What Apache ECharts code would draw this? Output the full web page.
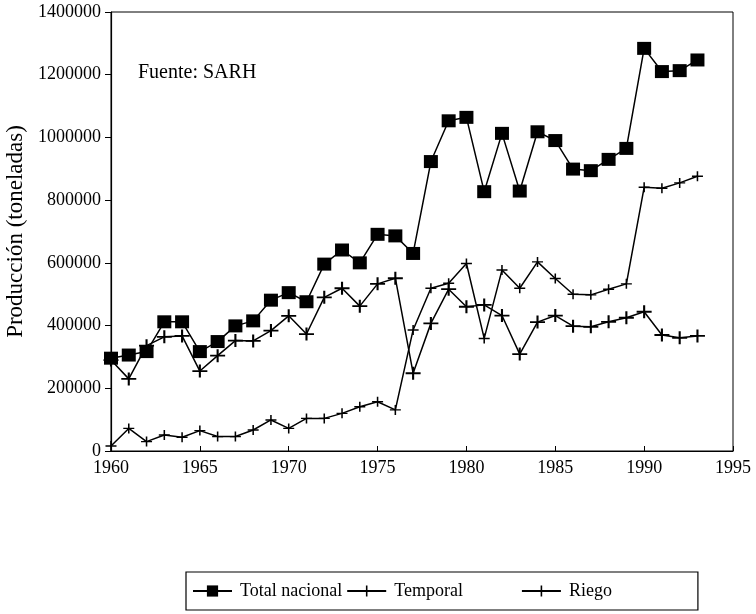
<!DOCTYPE html>
<html>
<head>
<meta charset="utf-8">
<script src="https://cdn.jsdelivr.net/npm/echarts@6/dist/echarts.min.js"></script>
<style>html,body{margin:0;padding:0;background:#fff;}#c{width:756px;height:614px;}</style>
</head>
<body>
<div id="c"></div>
<script>
const years = [1960,1961,1962,1963,1964,1965,1966,1967,1968,1969,1970,1971,1972,1973,1974,1975,1976,1977,1978,1979,1980,1981,1982,1983,1984,1985,1986,1987,1988,1989,1990,1991,1992,1993];
const totalNacional = [296000,306000,317000,412000,412000,317000,349000,399000,415000,481000,505000,476000,596000,641000,600000,691000,686000,630000,923000,1053000,1064000,827000,1013000,829000,1018000,990000,899000,894000,930000,965000,1284000,1210000,1213000,1247000];
const temporal = [290000,230000,336000,364000,367000,255000,304000,352000,351000,384000,431000,373000,490000,519000,462000,533000,551000,248000,407000,516000,460000,466000,432000,309000,411000,432000,398000,396000,412000,425000,444000,370000,361000,367000];
const riego = [16000,72000,30000,51000,44000,65000,46000,46000,67000,99000,72000,104000,104000,120000,141000,157000,131000,386000,519000,535000,598000,359000,577000,519000,603000,550000,500000,498000,516000,533000,841000,838000,855000,876000];
const seriesNames = ['Total nacional','Temporal','Riego'];
const yTicks = [0,200000,400000,600000,800000,1000000,1200000,1400000];
const xTicks = [1960,1965,1970,1975,1980,1985,1990,1995];

const serif = '"Liberation Serif", "DejaVu Serif", serif';
const plus = 'path://M4.3,0 H5.7 V4.3 H10 V5.7 H5.7 V10 H4.3 V5.7 H0 V4.3 H4.3 Z';
const pair = arr => years.map((y,i)=>[y,arr[i]]);

const chart = echarts.init(document.getElementById('c'), null, {renderer:'canvas'});
chart.setOption({
  animation:false,
  backgroundColor:'#fff',
  title:{text:'Fuente: SARH', left:133, top:58, textStyle:{fontFamily:serif, fontSize:20, fontWeight:'normal', color:'#000'}},
  grid:{left:111, right:23, top:12, bottom:163, show:true, borderColor:'#000', borderWidth:1,
    backgroundColor:'transparent', containLabel:false, outerBoundsMode:'none'},
  legend:{
    left:186, top:572, orient:'horizontal',
    padding:[10,86,10,6], itemGap:4, itemWidth:39, itemHeight:14,
    borderColor:'#000', borderWidth:1.2,
    textStyle:{fontFamily:serif, fontSize:18, color:'#000', padding:[0,0,0,3]},
    formatter: n => n==='Temporal' ? 'Temporal            ' : n,
    data:seriesNames
  },
  xAxis:{type:'value', min:xTicks[0], max:xTicks[xTicks.length-1], interval:5,
    axisLine:{lineStyle:{color:'#000', width:1.2}},
    axisTick:{inside:true, length:5, lineStyle:{color:'#000'}},
    axisLabel:{fontFamily:serif, fontSize:18, color:'#000', margin:8, formatter:v=>String(v)},
    splitLine:{show:false}},
  yAxis:{type:'value', min:yTicks[0], max:yTicks[yTicks.length-1], interval:200000,
    name:'Producción (toneladas)', nameLocation:'middle', nameGap:84,
    nameTextStyle:{fontFamily:serif, fontSize:23, color:'#000'},
    axisLine:{show:true, lineStyle:{color:'#000', width:1.2}},
    axisTick:{show:true, length:6, lineStyle:{color:'#000'}},
    axisLabel:{fontFamily:serif, fontSize:18, color:'#000', margin:10, formatter:v=>String(v)},
    splitLine:{show:false}},
  series:[
    {name:seriesNames[0], type:'line', data:pair(totalNacional), symbol:'rect', symbolSize:[14,13],
      lineStyle:{color:'#000', width:1.5}, itemStyle:{color:'#000'}},
    {name:seriesNames[1], type:'line', data:pair(temporal), symbol:plus, symbolSize:[15,13],
      lineStyle:{color:'#000', width:1.5}, itemStyle:{color:'#000'}},
    {name:seriesNames[2], type:'line', data:pair(riego), symbol:plus, symbolSize:[11,10],
      lineStyle:{color:'#000', width:1.5}, itemStyle:{color:'#000'}}
  ]
});
</script>
</body>
</html>
